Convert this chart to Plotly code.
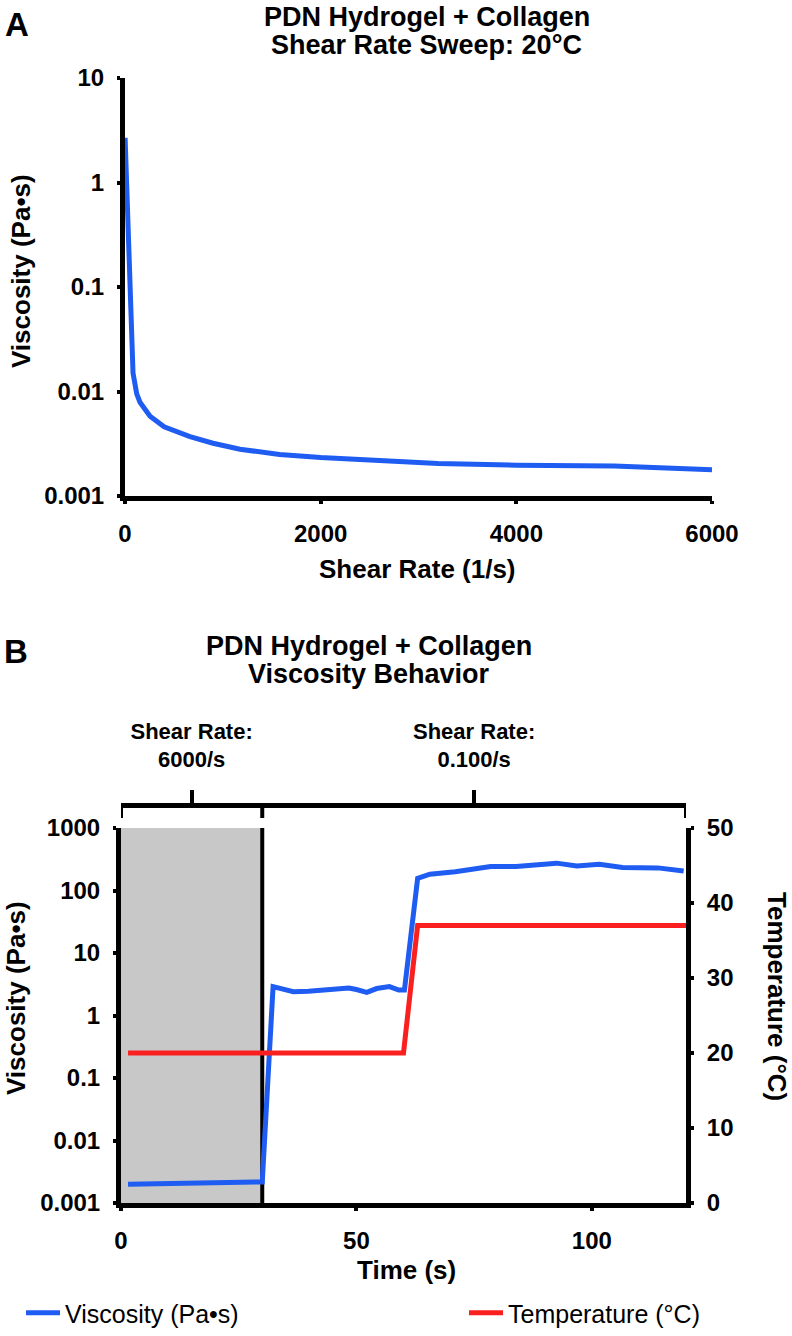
import plotly.graph_objects as go

W, H = 792, 1336

# ---------------- data ----------------
# Panel A: shear rate sweep at 20 °C
shear_rate = [1, 40, 82, 120, 153, 256, 400, 664, 900, 1175, 1580, 2000, 2600, 3200, 4000, 5000, 6000]
viscosity_a = [2.68, 0.25, 0.015, 0.0095, 0.0079, 0.0058, 0.0046, 0.0037, 0.0032, 0.0028,
               0.0025, 0.00233, 0.0022, 0.00205, 0.00197, 0.00194, 0.00178]
a_xticks = [0, 2000, 4000, 6000]
log_ticks_a = [0.001, 0.01, 0.1, 1, 10]
log_ticktext_a = ["0.001", "0.01", "0.1", "1", "10"]

# Panel B: viscosity behaviour over time
time_visc = [1.5, 30, 32.3, 34, 36.6, 39.8, 43, 45.2, 48.4, 50, 52.2, 54.3, 57, 59, 60.2,
             63, 65.6, 71, 78.5, 83.9, 88.2, 92.5, 96.8, 101.6, 106.5, 111.8, 114, 119.5]
viscosity_b = [0.0020, 0.00217, 2.9, 2.7, 2.4, 2.45, 2.55, 2.7, 2.75, 2.6, 2.35, 2.7, 2.9, 2.55, 2.55,
               156, 182, 200, 242, 242, 256, 274, 246, 264, 234, 225, 230, 205]
time_temp = [1.5, 30, 60, 63, 120]
temperature = [20, 20, 20, 37, 37]
b_xticks = [0, 50, 100]
log_ticks_b = [0.001, 0.01, 0.1, 1, 10, 100, 1000]
log_ticktext_b = ["0.001", "0.01", "0.1", "1", "10", "100", "1000"]
temp_ticks = [0, 10, 20, 30, 40, 50]
shear_phase_ticks = [15, 75]
shear_phase_labels = ["Shear Rate:<br>6000/s", "Shear Rate:<br>0.100/s"]
high_shear_end = 30      # end of the 6000/s phase (s)
time_end = 120

# ---------------- styling ----------------
BLUE = "#1f5cf2"
RED = "#fa2020"
GRAY = "#c8c8c8"
FONT = "Liberation Sans, Arial, Helvetica, sans-serif"


def px(x):
    return x / W


def py(y):
    return 1 - y / H


tickfont = dict(family=FONT, size=24, color="black", weight="bold")
axis_common = dict(showline=True, linewidth=5, linecolor="black", ticks="outside",
                   ticklen=3, tickwidth=4, tickcolor="black", showgrid=False,
                   zeroline=False, tickfont=tickfont, mirror=False, automargin=False)

fig = go.Figure()

fig.add_trace(go.Scatter(x=shear_rate, y=viscosity_a, mode="lines",
                         line=dict(color=BLUE, width=5), xaxis="x", yaxis="y",
                         showlegend=False))

fig.add_trace(go.Scatter(x=time_visc, y=viscosity_b, mode="lines",
                         line=dict(color=BLUE, width=5), xaxis="x2", yaxis="y2",
                         name="Viscosity (Pa\u2022s)", legend="legend"))
fig.add_trace(go.Scatter(x=time_temp, y=temperature, mode="lines",
                         line=dict(color=RED, width=5), xaxis="x2", yaxis="y3",
                         name="Temperature (\u00b0C)", legend="legend2"))
# carrier trace so the top phase axis is drawn
fig.add_trace(go.Scatter(x=shear_phase_ticks, y=[None, None], mode="lines",
                         xaxis="x3", yaxis="y2", showlegend=False, hoverinfo="skip"))

fig.update_layout(
    width=W, height=H,
    margin=dict(l=0, r=0, t=0, b=0, pad=0, autoexpand=False),
    paper_bgcolor="white", plot_bgcolor="rgba(0,0,0,0)",
    font=dict(family=FONT, color="black"),
    xaxis=dict(domain=[px(125), px(712)], range=[0, 6000], tickvals=a_xticks,
               anchor="y", ticklabelstandoff=9, **axis_common),
    yaxis=dict(domain=[py(496), py(78)], type="log", range=[-3, 1],
               tickvals=log_ticks_a, ticktext=log_ticktext_a, anchor="x",
               ticklabelstandoff=8, **axis_common),
    xaxis2=dict(domain=[px(121), px(686)], range=[0, time_end], tickvals=b_xticks,
                anchor="y2", ticklabelstandoff=9, **axis_common),
    yaxis2=dict(domain=[py(1203), py(828)], type="log", range=[-3, 3],
                tickvals=log_ticks_b, ticktext=log_ticktext_b, anchor="x2",
                ticklabelstandoff=8, **axis_common),
    yaxis3=dict(domain=[py(1203), py(828)], range=[0, 50], tickvals=temp_ticks,
                anchor="x2", overlaying="y2", side="right",
                ticklabelstandoff=8, **axis_common),
    xaxis3=dict(overlaying="x2", anchor="free", position=py(805), side="top",
                range=[0, time_end], tickvals=shear_phase_ticks,
                ticktext=shear_phase_labels, showline=True, linewidth=5,
                linecolor="black", ticks="outside", ticklen=13, tickwidth=4,
                tickcolor="black", showgrid=False, zeroline=False, automargin=False,
                tickfont=dict(family=FONT, size=22, color="black", weight="bold"),
                ticklabelstandoff=14),
    legend=dict(x=px(21), y=py(1313), xanchor="left", yanchor="middle",
                orientation="h", itemwidth=34, bgcolor="rgba(0,0,0,0)",
                font=dict(family=FONT, size=25, color="black")),
    legend2=dict(x=px(464), y=py(1313), xanchor="left", yanchor="middle",
                 orientation="h", itemwidth=34, bgcolor="rgba(0,0,0,0)",
                 font=dict(family=FONT, size=25, color="black")),
)

# shaded high-shear phase and its boundary
fig.add_shape(type="rect", xref="x2", yref="y2 domain", x0=0, x1=high_shear_end,
              y0=0, y1=1, fillcolor=GRAY, line=dict(width=0), layer="below")
fig.add_shape(type="line", xref="x2", yref="y2 domain", x0=high_shear_end, x1=high_shear_end,
              y0=0, y1=1, line=dict(color="black", width=4), layer="below")
# downward ticks on the top phase axis
for xv in [0, high_shear_end, time_end]:
    fig.add_shape(type="line", xref="x2", yref="paper", x0=xv, x1=xv,
                  y0=py(806), y1=py(818), line=dict(color="black", width=4))


def ann(text, x, y, size, bold=True, angle=0):
    fig.add_annotation(text=text, x=px(x), y=py(y), xref="paper", yref="paper",
                       showarrow=False, xanchor="center", yanchor="middle",
                       textangle=angle,
                       font=dict(family=FONT, size=size, color="black",
                                 weight="bold" if bold else "normal"))


ann("A", 17, 24, 33)
ann("PDN Hydrogel + Collagen", 427, 17, 27)
ann("Shear Rate Sweep: 20\u00b0C", 426, 45, 27)
ann("Shear Rate (1/s)", 417, 569, 26)
ann("Viscosity (Pa\u2022s)", 21, 271, 26, angle=-90)

ann("B", 16, 651, 33)
ann("PDN Hydrogel + Collagen", 369, 646, 27)
ann("Viscosity Behavior", 369, 674, 27)
ann("Time (s)", 406, 1270, 26)
ann("Viscosity (Pa\u2022s)", 16, 998, 26, angle=-90)
ann("Temperature (\u00b0C)", 777, 996, 26, angle=90)

fig.write_html(
    "out.html",
    config={"displayModeBar": False},
    post_script="document.body.style.margin='0';document.body.style.overflow='hidden';",
)
